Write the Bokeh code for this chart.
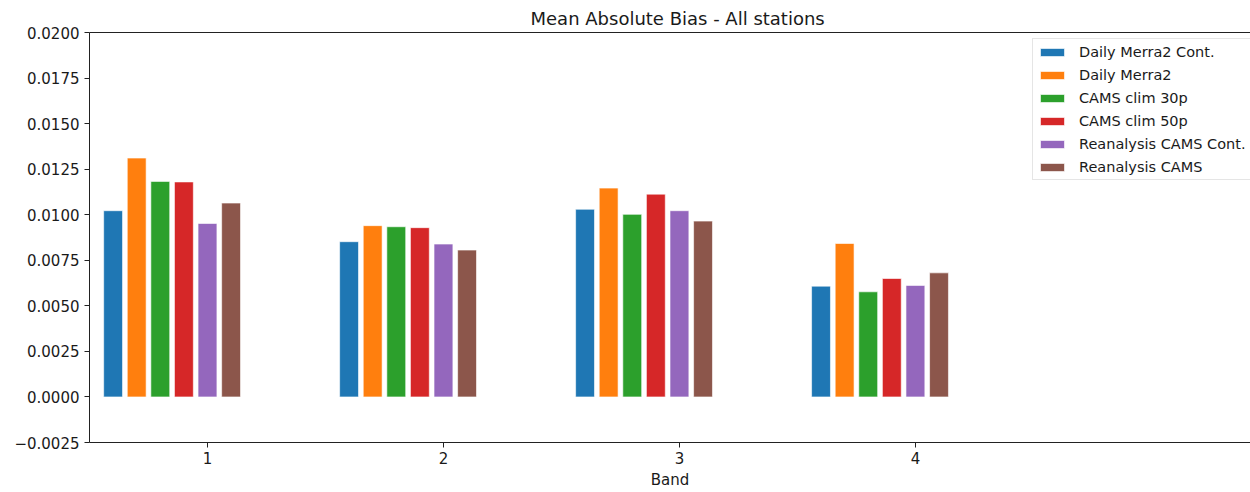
from bokeh.plotting import figure
from bokeh.models import (FixedTicker, CustomJSTickFormatter, LinearAxis, Legend,
                          LegendItem, ColumnDataSource)
from bokeh.transform import dodge
from bokeh.embed import file_html
from bokeh.resources import INLINE

# ---- data ----
bands = [1, 2, 3, 4]
band_labels = ["1", "2", "3", "4"]
series_names = ["Daily Merra2 Cont.", "Daily Merra2", "CAMS clim 30p",
                "CAMS clim 50p", "Reanalysis CAMS Cont.", "Reanalysis CAMS"]
daily_merra2_cont = [0.01022, 0.00852, 0.01030, 0.00608]
daily_merra2 = [0.01311, 0.00940, 0.01146, 0.00842]
cams_clim_30p = [0.01183, 0.00934, 0.01002, 0.00577]
cams_clim_50p = [0.01180, 0.00929, 0.01113, 0.00650]
reanalysis_cams_cont = [0.00952, 0.00839, 0.01022, 0.00612]
reanalysis_cams = [0.01064, 0.00806, 0.00965, 0.00681]
y_ticks = [-0.0025, 0.0, 0.0025, 0.0050, 0.0075, 0.0100, 0.0125, 0.0150, 0.0175, 0.0200]

series_values = [daily_merra2_cont, daily_merra2, cams_clim_30p,
                 cams_clim_50p, reanalysis_cams_cont, reanalysis_cams]
colors = ["#1f77b4", "#ff7f0e", "#2ca02c", "#d62728", "#9467bd", "#8c564b"]
offsets = [-0.4, -0.3, -0.2, -0.1, 0.0, 0.1]
FONT = "DejaVu Sans"
TXT = "#1a1a1a"

p = figure(width=1250, height=492, output_backend="svg", toolbar_location=None,
           x_range=(0.5, 5.42), y_range=(-0.0025, 0.02),
           min_border_left=89, min_border_right=0, min_border_bottom=50,
           min_border_top=32)
p.outline_line_color = None
p.xgrid.visible = False
p.ygrid.visible = False
p.background_fill_color = "white"
p.border_fill_color = "white"

p.title.text = "Mean Absolute Bias - All stations"
p.title.text_font = FONT
p.title.text_font_size = "18px"
p.title.text_font_style = "normal"
p.title.text_color = TXT
p.title.align = "left"
p.title.offset = 441
p.title.standoff = 8

renderers = []
for name, vals, col, off in zip(series_names, series_values, colors, offsets):
    src = ColumnDataSource(dict(band=bands, value=vals))
    r = p.vbar(x=dodge("band", off, range=p.x_range), top="value", bottom=0,
               width=0.08, source=src, fill_color=col, line_color="white",
               line_alpha=0.6, line_width=1)
    renderers.append((name, r))

# axes styling
xa = p.xaxis[0]
xa.ticker = FixedTicker(ticks=bands)
xa.major_label_overrides = {b: l for b, l in zip(bands, band_labels)}
xa.axis_label = "Band"
ya = p.yaxis[0]
ya.ticker = FixedTicker(ticks=y_ticks)
ya.formatter = CustomJSTickFormatter(
    code="return (tick < -1e-12 ? '\u2212' : '') + Math.abs(tick).toFixed(4);")
for ax in (xa, ya):
    ax.minor_tick_line_color = None
    ax.major_tick_in = 0
    ax.major_tick_out = 5
    ax.major_label_text_font = FONT
    ax.major_label_text_font_size = "15px"
    ax.major_label_text_color = TXT
    ax.axis_line_color = "#222222"
    ax.major_tick_line_color = "#222222"
    ax.axis_label_text_font = FONT
    ax.axis_label_text_font_size = "15px"
    ax.axis_label_text_font_style = "normal"
    ax.axis_label_text_color = TXT
xa.major_label_standoff = 4
xa.axis_label_standoff = 4
ya.major_label_standoff = 5

top_axis = LinearAxis(ticker=FixedTicker(ticks=[]), major_tick_out=0, major_tick_in=0,
                      minor_tick_line_color=None, major_label_text_font_size="0px",
                      major_label_standoff=0, axis_line_color="#222222")
p.add_layout(top_axis, "above")

legend = Legend(items=[LegendItem(label=n, renderers=[r]) for n, r in renderers],
                location=(943, 262), glyph_width=30, glyph_height=10,
                label_height=17, spacing=6, padding=4, margin=0,
                label_standoff=12, label_text_font=FONT,
                label_text_font_size="14.5px", label_text_color=TXT,
                border_line_color="#cccccc", background_fill_alpha=0.8)
p.add_layout(legend, "center")

open("out.html", "w").write(file_html(p, INLINE))
